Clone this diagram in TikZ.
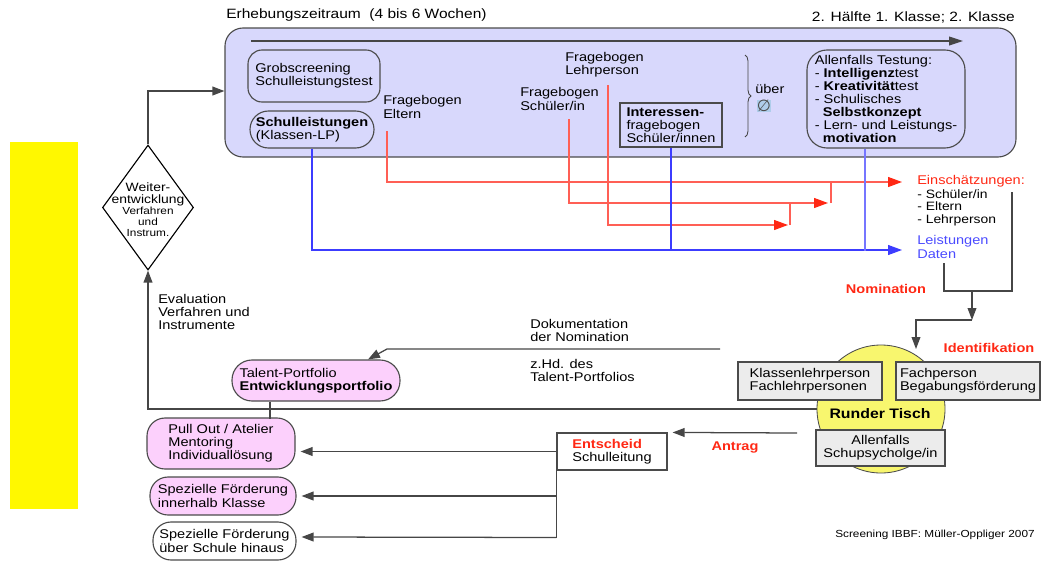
\documentclass[tikz,border=0pt]{standalone}
\usepackage{fontspec}
\setmainfont{Liberation Sans}[FakeStretch=1.15]
\newfontfamily\symbfont{DejaVu Sans}
\usepackage{xcolor}
\usetikzlibrary{calc}
\usetikzlibrary{positioning}
\usetikzlibrary{shapes.geometric}
\usetikzlibrary{arrows.meta}
\usetikzlibrary{decorations.pathreplacing}

\definecolor{lavender}{RGB}{216,216,252}
\definecolor{pinkbox}{RGB}{252,208,252}
\definecolor{boxgray}{RGB}{236,236,236}
\definecolor{edgegray}{RGB}{75,75,75}
\definecolor{linegray}{RGB}{70,70,70}
\definecolor{roundtab}{RGB}{248,246,110}
\definecolor{yellowbar}{RGB}{255,248,0}
\definecolor{tred}{RGB}{255,40,20}
\definecolor{rline}{RGB}{255,95,85}
\definecolor{tblue}{RGB}{75,75,255}
\definecolor{bline}{RGB}{60,60,255}
\definecolor{nullbg}{RGB}{175,205,235}

\begin{document}
\begin{tikzpicture}[x=0.025cm, y=-0.025cm, font=\fontsize{9}{9.3}\selectfont,
    rbox/.style={draw=edgegray, line width=0.8pt, rounded corners=0.35cm,
        align=left, inner sep=0pt},
    gbox/.style={draw=edgegray, line width=0.8pt, fill=boxgray, align=left,
        inner sep=0pt},
    txt/.style={align=left, inner sep=0pt},
    redtxt/.style={text=tred, font=\fontsize{9}{9.3}\selectfont\bfseries,
        inner sep=0pt},
    gline/.style={draw=linegray, line width=0.9pt},
    garr/.style={gline, -{Triangle[length=0.3cm, width=0.22cm]}},
    redarr/.style={draw=rline, line width=0.9pt,
        -{Triangle[length=0.35cm, width=0.25cm, color=tred]}},
    bluearr/.style={draw=bline, line width=0.8pt,
        -{Triangle[length=0.35cm, width=0.25cm]}}]

        \def\px{0.025cm}

        \useasboundingbox (0,0) rectangle (1041,561);
        \fill[fill=yellowbar] (10,142) rectangle (78,509);

        % Erhebungszeitraum
        \node[txt, anchor=west, font=\fontsize{9.6}{10}\selectfont] (titel)
        at (226,15) {Erhebungszeitraum\ \ (4 bis 6 Wochen)};
        \node[txt, anchor=east, font=\fontsize{9.6}{10}\selectfont] (klasse)
        at (1015,17) {2. Hälfte 1. Klasse; 2. Klasse};
        \node[rbox, fill=lavender, rounded corners=0.45cm,
            minimum width=791*\px, minimum height=129*\px] (erh) at (620.5,92.5) {};
        \coordinate (zeit0) at (251,41);
        \coordinate (zeit1) at (963,41);
        \draw[gline, -{Triangle[length=0.35cm, width=0.22cm]}] (zeit0) -- (zeit1);

        \node[rbox, minimum width=132*\px, minimum height=52*\px] (grob)
        at (314,76) {Grobscreening\\Schulleistungstest};
        \node[rbox, rounded corners=0.46cm, minimum width=124*\px,
            minimum height=37*\px] (schul) at (312,129.5)
        {\textbf{Schulleistungen}\\(Klassen-LP)};
        \node[txt, anchor=west] (elt) at (383,107) {Fragebogen\\Eltern};
        \node[txt, anchor=west] (schue) at (520,99) {Fragebogen\\Schüler/in};
        \node[txt, anchor=west] (lehr) at (565,64.5) {Fragebogen\\Lehrperson};
        \node[gbox, fill=none, minimum width=102*\px, minimum height=44*\px]
        (inter) at (671,125) {\textbf{Interessen-}\\fragebogen\\Schüler/innen};
        \draw[gline, line width=0.6pt, decorate,
            decoration={brace, amplitude=0.15cm}] (745,55) -- (745,137);
        \node[txt, anchor=west] (ueber) at (755,89) {über};
        \node[fill=nullbg, inner sep=0.3pt, text=edgegray,
            font=\symbfont\fontsize{11.5}{12}\selectfont] (null) at (764,106) {∅};
        \node[rbox, rounded corners=0.5cm, minimum width=158*\px,
            minimum height=98*\px] (allen) at (886,99)
        {Allenfalls Testung:\\- \textbf{Intelligenz}test\\
        - \textbf{Kreativität}test\\- Schulisches\\
        \ \ \textbf{Selbstkonzept}\\- Lern- und Leistungs-\\
        \ \ \textbf{motivation}};

        % Einschaetzungen und Leistungen
        \node[txt, anchor=west, text=tred] (einsch) at (917,181)
        {Einschätzungen:};
        \node[txt, anchor=north west, font=\fontsize{8.6}{9}\selectfont]
        (elist) at (917,189) {- Schüler/in\\- Eltern\\- Lehrperson};
        \node[txt, anchor=west, text=tblue] (leist) at (917,247)
        {Leistungen\\Daten};

        \coordinate (eltfoot) at (387,131);
        \coordinate (schfoot) at (569,119);
        \coordinate (lehfoot) at (608,85);
        \coordinate (tip2) at (828,203);
        \coordinate (tip3) at (788,225);

        \begin{scope}
            \draw[redarr] (eltfoot) |- ($(einsch.west)+(-15,1)$);
            \draw[redarr] (schfoot) |- (tip2);
            \draw[redarr] (lehfoot) |- (tip3);
            \draw[draw=rline, line width=0.9pt] ($(tip2)+(3,0)$) -- ++(0,-21);
            \draw[draw=rline, line width=0.9pt] ($(tip3)+(2,0)$) -- ++(0,-22);

            \draw[bluearr] (schul.south) |- ($(leist.west)+(-15,3)$);
            \draw[draw=bline, line width=0.8pt] (inter.south) -- ++(0,103);
            \draw[draw=bline!70, line width=0.8pt] ($(allen.south)+(-21,0)$)
            -- ++(0,102);
        \end{scope}

        % Nomination und Identifikation
        \node[redtxt] (nomi) at (886,289) {Nomination};
        \node[redtxt] (ident) at (989,348) {Identifikation};
        \coordinate (ejoin) at (1012,192);
        \coordinate (ljoin) at (944,263);
        \coordinate (nomj) at (972,291);
        \coordinate (nomk) at (972,320);
        \coordinate (idk) at (916,349);
        \draw[gline] (ejoin) -- ++(0,99) -| (ljoin);
        \draw[garr] (nomj) -- (nomk);
        \draw[garr] (nomk) -| (idk);

        % Runder Tisch
        \node[circle, fill=roundtab, draw=edgegray, line width=0.6pt,
            minimum size=128*\px] (rt) at (881,409) {};
        \node[font=\fontsize{9.8}{10}\selectfont\bfseries] (rtl) at (880,414)
        {Runder Tisch};
        \node[gbox, minimum width=144*\px, minimum height=38*\px] (klp)
        at (810,381) {Klassenlehrperson\\Fachlehrpersonen};
        \node[gbox, minimum width=144*\px, minimum height=38*\px] (fach)
        at (968,381) {Fachperson\\Begabungsförderung};
        \node[gbox, align=center, minimum width=129*\px, minimum height=36*\px]
        (alf) at (880.5,448) {Allenfalls\\Schupsycholge/in};

        % Evaluation und Weiterentwicklung
        \node[draw=black, line width=0.8pt, diamond, fill=white,
            minimum width=91*\px, minimum height=125*\px, inner sep=0pt]
        (weit) at (148,207.5) {};
        \node[align=center, inner sep=0pt, font=\fontsize{7.3}{8}\selectfont]
        (weitl) at (148,210)
        {{\fontsize{8.6}{8}\selectfont Weiter-}\\
        {\fontsize{8.6}{8}\selectfont entwicklung}\\Verfahren\\und\\Instrum.};
        \draw[garr] (rt.west) -| (weit.south);
        \draw[garr] (weit.north) |- ($(erh.west)+(0,-1.5)$);
        \node[txt, anchor=north west] (eval) at (158,294)
        {Evaluation\\Verfahren und\\Instrumente};

        % Dokumentation und Foerderung
        \node[rbox, fill=pinkbox, rounded corners=0.5cm, minimum width=168*\px,
            minimum height=41*\px] (tp) at (316,380.5)
        {Talent-Portfolio\\\textbf{Entwicklungsportfolio}};
        \node[txt, anchor=west] (doku) at (530,330.5)
        {Dokumentation\\der Nomination};
        \node[txt, anchor=west] (zhd) at (530,370.5)
        {z.Hd. des\\Talent-Portfolios};
        \coordinate (dokr) at (720,349);
        \coordinate (dokk) at (387,349);
        \draw[garr] (dokr) -- (dokk) -- ($(tp.north)+(52,0)$);

        \node[rbox, fill=pinkbox, rounded corners=0.45cm, minimum width=148*\px,
            minimum height=51*\px] (pull) at (221,443.5)
        {Pull Out / Atelier\\Mentoring\\Individuallösung};
        \node[rbox, fill=pinkbox, rounded corners=0.45cm, minimum width=146*\px,
            minimum height=38*\px] (sp1) at (223,496)
        {Spezielle Förderung\\innerhalb Klasse};
        \node[rbox, fill=white, rounded corners=0.45cm, minimum width=143*\px,
            minimum height=38*\px] (sp2) at (224.5,541)
        {Spezielle Förderung\\über Schule hinaus};
        \draw[gline] ($(tp.south)+(-46,0)$) -- ++(0,17);

        \node[gbox, fill=white, minimum width=110*\px, minimum height=37*\px]
        (ent) at (612,451.5)
        {\textcolor{tred}{\textbf{Entscheid}}\\Schulleitung};
        \coordinate (antr) at (797,433);
        \draw[garr] (antr) -- ($(ent.north east)+(5,0)$);
        \node[redtxt] (antrag) at (735,447) {Antrag};

        \draw[gline] (ent.west) -- ($(ent.west)+(0,86)$);
        \draw[garr] (ent.west) -- ($(pull.east |- ent.west)+(5,0)$);
        \draw[garr] (ent.west |- sp1.east) -- ($(sp1.east)+(5,0)$);
        \draw[garr] ($(ent.west)+(0,86)$) -- ($(sp2.east)+(5,-4)$);

        \node[txt, anchor=east, font=\fontsize{7.3}{8}\selectfont] (quelle)
        at (1035,535) {Screening IBBF: Müller-Oppliger 2007};

        \end{tikzpicture}
\end{document}
